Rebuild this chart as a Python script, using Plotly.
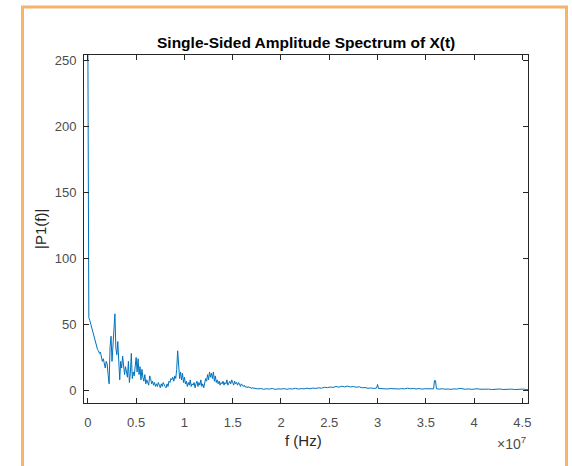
import plotly.graph_objects as go

# ---- data (frequency in MHz, amplitude |P1(f)|) ----
low_f = [0.0, 0.1, 0.2, 0.3, 0.4, 0.5, 0.6, 0.7, 0.8, 0.9, 1.0, 1.1, 1.2, 1.3, 1.4, 1.5, 1.6, 1.7, 1.8, 1.9,
         2.0, 2.1, 2.2, 2.3, 2.4, 2.5, 2.6, 2.7, 2.8, 2.9, 3.0, 3.1, 3.2, 3.3, 3.4, 3.5, 3.6, 3.7, 3.8, 3.9,
         4.0, 4.1, 4.2, 4.3, 4.4, 4.5, 4.6, 4.7, 4.8, 4.9, 5.0, 5.1, 5.2, 5.3, 5.4, 5.5, 5.6, 5.7, 5.8, 5.9,
         6.0, 6.1, 6.2, 6.3, 6.4, 6.5, 6.6, 6.7, 6.8, 6.9, 7.0]
low_amp = [262, 55, 53, 50, 48, 46, 43, 40, 37, 34, 31, 30, 28, 29, 24, 22, 24, 20, 17, 22,
           20, 12, 5, 33, 41, 22, 38, 45, 58, 32, 27, 37, 26, 8, 22, 17, 26, 19, 12, 18,
           14, 10, 22, 6, 13, 28, 9, 14, 11, 17, 25, 14, 24, 12, 18, 8, 16, 10, 7, 12,
           5, 8, 6, 4, 11, 9, 5, 7, 4, 6, 3]

mid_f = [7.1, 7.2, 7.3, 7.4, 7.5, 7.6, 7.7, 7.8, 7.9, 8.0, 8.1, 8.2, 8.3, 8.4, 8.5, 8.6, 8.7, 8.8, 8.9, 9.0,
         9.1, 9.2, 9.3, 9.4, 9.5, 9.6, 9.7, 9.8, 9.9, 10.0, 10.1, 10.2, 10.3, 10.4, 10.5, 10.6, 10.7, 10.8, 10.9, 11.0,
         11.1, 11.2, 11.3, 11.4, 11.5, 11.6, 11.7, 11.8, 11.9, 12.0, 12.1, 12.2, 12.3, 12.4, 12.5, 12.6, 12.7, 12.8, 12.9, 13.0,
         13.1, 13.2, 13.3, 13.4, 13.5, 13.6, 13.7, 13.8, 13.9, 14.0, 14.1, 14.2, 14.3, 14.4, 14.5, 14.6, 14.7, 14.8, 14.9, 15.0,
         15.1, 15.2, 15.3, 15.4, 15.5, 15.6, 15.7, 15.8, 15.9, 16.0, 16.1, 16.2, 16.3, 16.4, 16.5, 16.6, 16.7, 16.8, 16.9, 17.0]
mid_amp = [5, 3, 6, 4, 2, 5, 3, 6, 4, 3, 2, 5, 3, 7, 6, 9, 8, 10, 7, 11,
           9, 16, 30, 18, 9, 14, 8, 13, 6, 10, 5, 7, 3, 6, 4, 8, 3, 5, 4, 6,
           2, 5, 7, 3, 6, 4, 8, 3, 5, 2, 6, 9, 7, 12, 8, 14, 10, 13, 9, 14,
           7, 11, 6, 8, 5, 7, 4, 6, 5, 7, 4, 6, 5, 8, 4, 6, 7, 5, 8, 6,
           4, 7, 5, 6, 4, 6, 5, 3, 5, 4, 3, 4, 2.5, 3, 2, 3, 2, 2.5, 1.5, 2]

high_f = [17.3, 17.6, 17.9, 18.2, 18.5, 18.8, 19.1, 19.4, 19.7, 20.0, 20.3, 20.6, 20.9, 21.2, 21.5, 21.8,
          22.1, 22.4, 22.7, 23.0, 23.3, 23.6, 23.9, 24.2, 24.5, 24.8, 25.1, 25.4, 25.7, 26.0, 26.3, 26.6,
          26.9, 27.2, 27.5, 27.8, 28.1, 28.4, 28.7, 29.0, 29.3, 29.6, 29.9, 30.0, 30.1, 30.4, 30.7, 31.0,
          31.3, 31.6, 31.9, 32.2, 32.5, 32.8, 33.1, 33.4, 33.7, 34.0, 34.3, 34.6, 34.9, 35.2, 35.5, 35.8,
          35.9, 36.0, 36.1, 36.4, 36.7, 37.0, 37.3, 37.6, 37.9, 38.2, 38.5, 38.8, 39.1, 39.4, 39.7, 40.0,
          40.3, 40.6, 40.9, 41.2, 41.5, 41.8, 42.1, 42.4, 42.7, 43.0, 43.3, 43.6, 43.9, 44.2, 44.5, 44.8,
          45.1, 45.4, 45.6]
high_amp = [1.6, 1.2, 1.4, 0.9, 1.3, 1.0, 1.5, 0.8, 1.2, 1.0, 1.4, 0.9, 1.3, 1.1, 1.6, 1.0,
            1.4, 1.2, 1.7, 1.3, 1.8, 1.5, 2.0, 1.7, 2.4, 2.1, 2.6, 2.3, 3.0, 2.5, 3.2, 2.7,
            3.3, 2.6, 3.0, 2.4, 2.8, 2.0, 2.2, 1.6, 1.9, 1.5, 1.8, 4.5, 1.5, 1.3, 1.6, 1.1,
            1.4, 1.2, 1.5, 1.1, 1.4, 1.2, 1.7, 1.3, 1.5, 1.1, 1.4, 1.0, 1.3, 1.1, 1.4, 1.2,
            7.6, 7.4, 1.3, 1.0, 1.3, 0.9, 1.1, 0.8, 1.2, 1.0, 1.6, 1.1, 0.9, 1.2, 0.8, 1.0,
            1.3, 0.9, 1.1, 0.8, 1.0, 0.7, 1.0, 0.8, 1.1, 0.7, 0.9, 0.8, 1.0, 0.7, 0.9, 0.8,
            1.0, 0.7, 0.8]

x_ticks = [0, 0.5e7, 1e7, 1.5e7, 2e7, 2.5e7, 3e7, 3.5e7, 4e7, 4.5e7]
x_tick_labels = ["0", "0.5", "1", "1.5", "2", "2.5", "3", "3.5", "4", "4.5"]
y_ticks = [0, 50, 100, 150, 200, 250]

freq_hz = [v * 1e6 for v in (low_f + mid_f + high_f)]
amp = low_amp + mid_amp + high_amp

AX = "#262626"
TICKC = "#4d4d4d"
FONT = "Liberation Sans, Arial, sans-serif"

fig = go.Figure(go.Scatter(x=freq_hz, y=amp, mode="lines",
                           line=dict(color="#0072BD", width=1), hoverinfo="skip"))

# plot area in pixels: left 84, right 528, top 55, bottom 403.5
L, R, T, B = 84, 528, 55, 403.5
W, H = 572, 466
pw, ph = R - L, B - T

def px(xp):
    return (xp - L) / pw

def py(yp):
    return (B - yp) / ph

fig.update_layout(
    width=W, height=H,
    margin=dict(l=L, r=W - R, t=T, b=H - B, pad=0),
    paper_bgcolor="white", plot_bgcolor="white",
    showlegend=False,
    font=dict(family=FONT, size=13, color=TICKC),
    xaxis=dict(range=[-0.04e7, 4.558e7], tickvals=x_ticks, ticktext=x_tick_labels,
               ticks="inside", ticklen=5, tickwidth=1, tickcolor=AX,
               showline=True, linecolor=AX, linewidth=1, mirror="allticks",
               showgrid=False, zeroline=False, ticklabelstandoff=7,
               tickfont=dict(size=13, color=TICKC)),
    yaxis=dict(range=[-9.5, 253.8], tickvals=y_ticks,
               ticks="inside", ticklen=5, tickwidth=1, tickcolor=AX,
               showline=True, linecolor=AX, linewidth=1, mirror="allticks",
               showgrid=False, zeroline=False, ticklabelstandoff=4,
               tickfont=dict(size=13, color=TICKC)),
    shapes=[dict(type="rect", xref="paper", yref="paper",
                 x0=px(22.5), x1=px(566.5), y0=py(480), y1=py(7),
                 line=dict(color="#F6B46A", width=3), fillcolor="rgba(0,0,0,0)", layer="above")],
    annotations=[
        dict(text="<b>Single-Sided Amplitude Spectrum of X(t)</b>", xref="paper", yref="paper",
             x=0.5, y=py(42), xanchor="center", yanchor="middle", showarrow=False,
             font=dict(size=15.5, color="#000000", family=FONT)),
        dict(text="f (Hz)", xref="paper", yref="paper", x=px(303), y=py(441),
             xanchor="center", yanchor="middle", showarrow=False,
             font=dict(size=15, color="#262626", family=FONT)),
        dict(text="|P1(f)|", xref="paper", yref="paper", x=px(40), y=0.5, textangle=-90,
             xanchor="center", yanchor="middle", showarrow=False,
             font=dict(size=15, color="#262626", family=FONT)),
        dict(text="×10<sup>7</sup>", xref="paper", yref="paper", x=px(528), y=py(444),
             xanchor="right", yanchor="middle", showarrow=False,
             font=dict(size=14, color=TICKC, family=FONT)),
    ],
)

fig.write_html("out.html")
